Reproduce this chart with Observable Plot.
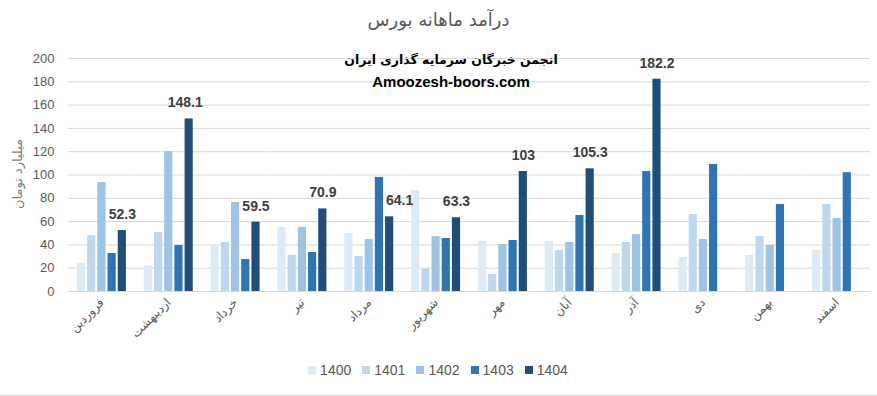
<!DOCTYPE html>
<html><head><meta charset="utf-8">
<script src="https://cdn.jsdelivr.net/npm/d3@7"></script>
<script src="https://cdn.jsdelivr.net/npm/@observablehq/plot@0.6"></script>
<style>
body{margin:0;background:#fff;}
#wrap{position:relative;width:877px;height:396px;overflow:hidden;font-family:"Liberation Sans",Arial,sans-serif;}
#wrap svg{position:absolute;left:0;top:0;}
.ov{position:absolute;white-space:nowrap;}
#title{top:9px;left:0;width:877px;text-align:center;font-family:"DejaVu Sans",sans-serif;font-size:18px;color:#595959;}
#wm1{top:52px;left:0;width:902px;text-align:center;font-family:"DejaVu Sans",sans-serif;font-weight:bold;font-size:12.5px;color:#000;}
#wm2{top:73px;left:0;width:902px;text-align:center;font-weight:bold;font-size:15px;color:#000;}
#ytitle{left:17px;top:174px;transform:translate(-50%,-50%) rotate(-90deg);font-family:"DejaVu Sans",sans-serif;font-size:13px;color:#7f7f7f;}
#legend{top:362px;left:0;width:876px;display:flex;justify-content:center;gap:11px;font-size:14px;color:#595959;}
#legend span.it{display:flex;align-items:center;gap:4px;}
#legend i{display:inline-block;width:8px;height:8px;}
#border{position:absolute;left:0;top:395px;width:877px;height:1px;background:#d9d9d9;}
</style></head><body><div id="wrap"></div>
<script>
const months = ["فروردین","اردیبهشت","خرداد","تیر","مرداد","شهریور","مهر","آبان","آذر","دی","بهمن","اسفند"];
const years = ["1400","1401","1402","1403","1404"];
const v1400 = [24, 22, 38.6, 55, 49.8, 86.7, 43, 43, 32.6, 29.2, 31, 35.2];
const v1401 = [48, 50.6, 42, 31, 30, 19, 14.6, 35.2, 42, 66, 47.2, 74.7];
const v1402 = [93.5, 120, 76.4, 55, 44.6, 47, 40.3, 42, 49, 44.6, 39.5, 62.7];
const v1403 = [32.6, 39.5, 27.5, 33.5, 97.9, 45.5, 43.8, 65.2, 103, 109, 74.7, 102];
const v1404 = [52.3, 148.1, 59.5, 70.9, 64.1, 63.3, 103, 105.3, 182.2, null, null, null];
const yTicks = [0, 20, 40, 60, 80, 100, 120, 140, 160, 180, 200];
const colors = ["#DEEBF7", "#BDD7EE", "#9DC3E6", "#2E75B6", "#1F4E79"];
const titleText = "درآمد ماهانه بورس";
const yTitle = "میلیارد تومان";
const wmLine1 = "انجمن خبرگان سرمایه گذاری ایران";
const wmLine2 = "Amoozesh-boors.com";

const series = [v1400, v1401, v1402, v1403, v1404];
const data = [];
months.forEach((m, i) => years.forEach((y, j) => {
  if (series[j][i] != null) data.push({month: m, year: y, value: series[j][i]});
}));

// label nudges (style only), as in the reference
const labelShift = {"اردیبهشت": -4, "مرداد": 10};
const lab = data.filter(d => d.year === "1404");
const labelOpts = {fx: "month", x: "year", y: "value", text: d => String(d.value), dy: -16, fontWeight: "bold", fontSize: 14, fill: "#404040"};
const labelMarks = [Plot.text(lab.filter(d => !(d.month in labelShift)), labelOpts)];
for (const m in labelShift) labelMarks.push(Plot.text(lab.filter(d => d.month === m), {...labelOpts, dx: labelShift[m]}));

const chart = Plot.plot({
  width: 877, height: 396,
  marginTop: 58, marginBottom: 105, marginLeft: 68, marginRight: 7,
  style: {fontFamily: "'Liberation Sans', Arial, sans-serif", background: "transparent"},
  fx: {domain: months, padding: 0, round: false, axis: null},
  x: {domain: years, paddingInner: 0.2, paddingOuter: 0.875, round: false, axis: null},
  y: {domain: [0, 200], axis: null},
  color: {domain: years, range: colors},
  marks: [
    Plot.gridY(yTicks, {stroke: "#d9d9d9", strokeOpacity: 1}),
    Plot.axisY(yTicks, {tickSize: 0, tickPadding: 14, fontSize: 13, color: "#595959", label: null}),
    Plot.barY(data, {fx: "month", x: "year", y: "value", fill: "year"}),
    ...labelMarks,
    Plot.axisFx({anchor: "bottom", tickRotate: -45, tickSize: 0, tickPadding: 9, fontSize: 12, color: "#595959", label: null, fontFamily: "DejaVu Sans"})
  ]
});

const wrap = document.getElementById("wrap");
wrap.appendChild(chart);
function ov(id, text, dir) {
  const d = document.createElement("div");
  d.className = "ov"; d.id = id; d.textContent = text;
  if (dir) d.dir = dir;
  wrap.appendChild(d);
  return d;
}
ov("title", titleText, "rtl");
ov("wm1", wmLine1, "rtl");
ov("wm2", wmLine2);
ov("ytitle", yTitle, "rtl");
const leg = document.createElement("div");
leg.className = "ov"; leg.id = "legend";
years.forEach((y, j) => {
  const s = document.createElement("span"); s.className = "it";
  const sw = document.createElement("i"); sw.style.background = colors[j];
  s.appendChild(sw); s.appendChild(document.createTextNode(y));
  leg.appendChild(s);
});
wrap.appendChild(leg);
const b = document.createElement("div"); b.id = "border"; wrap.appendChild(b);
</script>
</body></html>
